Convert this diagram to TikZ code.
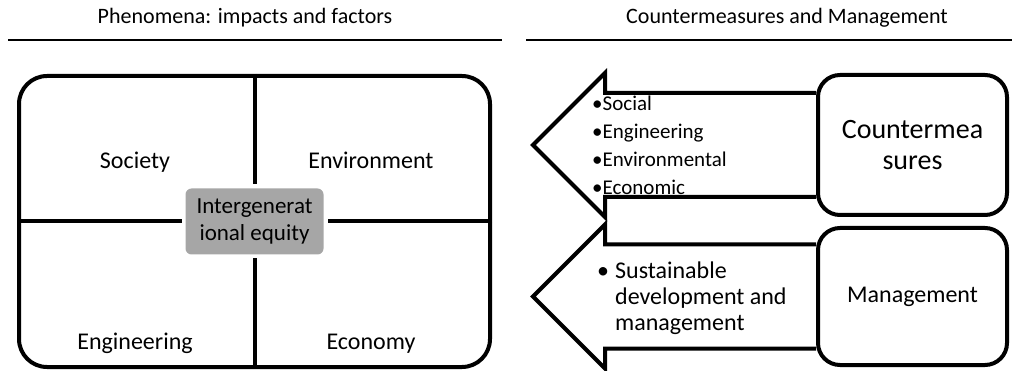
\documentclass[tikz,border=0pt]{standalone}
\usepackage{fontspec}
\setmainfont{Carlito}
\usetikzlibrary{positioning,calc}
\definecolor{gris}{HTML}{A6A6A6}

\tikzset{
  epais/.style={line width=4pt},
  boite/.style={draw,epais,rounded corners=#1,inner sep=0pt},
  titre/.style={font=\fontsize{22}{26}\selectfont},
  quart/.style={font=\fontsize{24}{28}\selectfont},
}

\begin{document}
\begin{tikzpicture}[x=1pt,y=-1pt]
  \useasboundingbox (0,0) rectangle (1012,371);
  \node[titre] (titreg) at (245,18) {Phenomena: impacts and factors};
  \node[titre] (titred) at (787,18) {Countermeasures and Management};
  \draw[line width=1.2pt] (8,40) -- (502,40);
  \draw[line width=1.2pt] (526,40) -- (1012,40);

  \node[boite=28pt,minimum width=471pt,minimum height=291pt] (cadre) at (254.5,221.5) {};
  \node[fill=gris,rounded corners=6pt,minimum width=138pt,minimum height=66pt,inner sep=0pt,
        outer sep=4pt,align=center,font=\fontsize{23}{27}\selectfont] (equite) at (cadre.center) {Intergenerat\\ional equity};
  \draw[epais] (cadre.north) -- (equite.north);
  \draw[epais] (cadre.south) -- (equite.south);
  \draw[epais] (cadre.west) -- (equite.west);
  \draw[epais] (cadre.east) -- (equite.east);
  \foreach \nom/\px/\py/\txt in {societe/135/169/Society,environ/371/169/Environment,
                                 ingenierie/135/349/Engineering,economie/371/349/Economy}
    \node[quart,anchor=base] (\nom) at (\px,\py) {\txt};

  \node[boite=22pt,minimum width=189pt,minimum height=140pt,align=center,
        font=\fontsize{28}{31}\selectfont] (cm) at (912.5,145) {Countermea\\sures};
  \node[boite=22pt,minimum width=189pt,minimum height=137pt,quart] (mg) at (912.5,296.5) {Management};
  \foreach \b in {cm,mg}
    \draw[epais] ($(\b.west)+(0,-52)$) -- ++(-211,0) -- ++(0,-20) -- ++(-72,72)
      -- ++(72,72) -- ++(0,-20) -- ($(\b.west)+(0,52)$);

  \node[anchor=west,align=left,inner sep=0pt,font=\fontsize{21}{28}\selectfont] (cmliste) at (592,145)
    {\textbullet Social\\\textbullet Engineering\\\textbullet Environmental\\\textbullet Economic};
  \node[anchor=west,inner sep=0pt,font=\fontsize{24}{26}\selectfont] (mgliste) at (597,299)
    {\begin{tabular}{@{}l@{\hspace{6pt}}l@{}}
       \textbullet & Sustainable\\
                   & development and\\
                   & management
     \end{tabular}};
\end{tikzpicture}
\end{document}
